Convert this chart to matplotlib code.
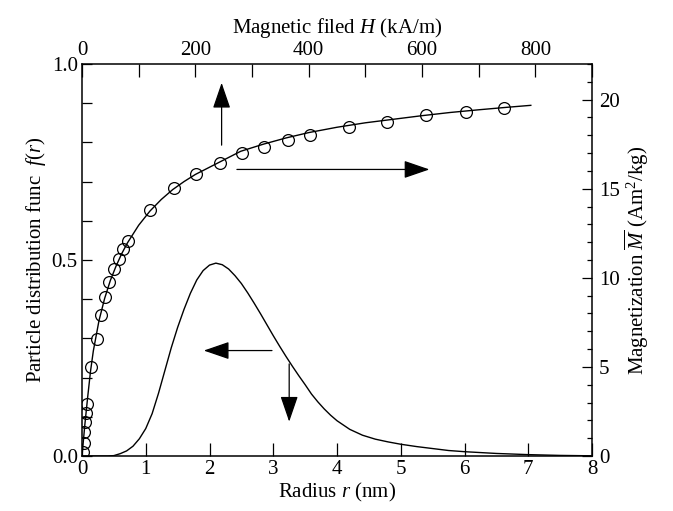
import matplotlib
matplotlib.use('Agg')
import matplotlib.pyplot as plt
from matplotlib.ticker import MultipleLocator, FixedLocator, FormatStrFormatter

plt.rcParams['font.family'] = ['Liberation Serif', 'DejaVu Serif']
plt.rcParams['mathtext.fontset'] = 'custom'
plt.rcParams['mathtext.rm'] = 'Liberation Serif'
plt.rcParams['mathtext.it'] = 'Liberation Serif:italic'

# size distribution f(r)
r_nm = [0, 0.4, 0.5, 0.6, 0.7, 0.8, 0.9, 1.0, 1.1, 1.2, 1.3, 1.4, 1.5, 1.6,
        1.7, 1.8, 1.9, 2.0, 2.1, 2.2, 2.3, 2.4, 2.5, 2.6, 2.7, 2.8, 2.9, 3.0,
        3.1, 3.2, 3.3, 3.4, 3.5, 3.6, 3.7, 3.8, 3.9, 4.0, 4.2, 4.4, 4.6, 4.8,
        5.0, 5.25, 5.5, 5.75, 6.0, 6.5, 7.0, 7.5, 8.0]
f_r = [0, 0.0, 0.001, 0.006, 0.013, 0.025, 0.044, 0.07, 0.108, 0.16,
       0.218, 0.276, 0.328, 0.374, 0.415, 0.449, 0.473, 0.487, 0.492, 0.488,
       0.477, 0.46, 0.44, 0.416, 0.39, 0.363, 0.335, 0.307, 0.28, 0.254,
       0.229, 0.205, 0.182, 0.158, 0.138, 0.12, 0.104, 0.09, 0.068, 0.053,
       0.043, 0.036, 0.03, 0.024, 0.019, 0.014, 0.011, 0.0065, 0.0035,
       0.0015, 0.0005]

# measured magnetization (circles)
H_meas = [2.3, 3.5, 4.4, 5.3, 7.1, 8.8, 15.4, 25.9, 33.0, 40.0, 47.6, 56.5,
          65.3, 71.8, 81.2, 120.0, 161.8, 200.6, 243.0, 281.8, 321.2, 363.0,
          401.5, 470.6, 538.8, 606.5, 677.1, 744.7]
M_meas = [0.24, 0.75, 1.36, 1.89, 2.40, 2.90, 5.01, 6.57, 7.91, 8.92, 9.76,
          10.49, 11.05, 11.62, 12.08, 13.82, 15.06, 15.82, 16.46, 17.03,
          17.36, 17.73, 18.04, 18.45, 18.76, 19.14, 19.32, 19.51]

# fitted magnetization curve
H_fit = [0, 5, 10, 15, 20, 30, 40, 50, 60, 70, 80, 100, 120, 140, 160, 180,
         200, 240, 280, 320, 360, 400, 450, 500, 550, 600, 650, 700, 750, 792]
M_fit = [0, 1.75, 3.3, 4.75, 5.9, 7.6, 8.85, 9.85, 10.65, 11.35, 11.95,
         12.95, 13.75, 14.4, 14.95, 15.4, 15.8, 16.45, 17.1, 17.5, 17.85,
         18.15, 18.45, 18.7, 18.9, 19.1, 19.28, 19.43, 19.57, 19.68]

FS = 15
fig = plt.figure(figsize=(6.73, 5.11), dpi=100)
rect = [82 / 673, 1 - 456 / 511, 510 / 673, 392 / 511]
ax = fig.add_axes(rect)
ax.plot(r_nm, f_r, color='black', lw=1.0)
ax.set_xlim(0, 8)
ax.set_ylim(0, 1.0)
ax.xaxis.set_major_locator(MultipleLocator(1))
ax.yaxis.set_major_locator(FixedLocator([0, 0.5, 1.0]))
ax.yaxis.set_minor_locator(MultipleLocator(0.1))
ax.yaxis.set_major_formatter(FormatStrFormatter('%.1f'))
ax.tick_params(axis='x', direction='in', length=9.5, width=0.9,
               labelsize=FS, pad=3, top=False)
ax.tick_params(axis='y', which='both', direction='in', length=7.2,
               width=0.9, labelsize=FS, pad=3, right=False)
for s in ax.spines.values():
    s.set_linewidth(1.1)
ax.set_xlabel('Radius $r$ (nm)', fontsize=FS, labelpad=1)
ax.set_ylabel('Particle distribution func  $f(r)$', fontsize=FS, labelpad=3)

ax2 = fig.add_axes(rect, frameon=False)
ax2.plot(H_fit, M_fit, color='black', lw=1.0)
ax2.plot(H_meas, M_meas, 'o', ms=8.5, mfc='none', mec='black', mew=0.9)
ax2.set_xlim(0, 900)
ax2.set_ylim(0, 22)
ax2.xaxis.tick_top()
ax2.xaxis.set_label_position('top')
ax2.yaxis.tick_right()
ax2.yaxis.set_label_position('right')
ax2.xaxis.set_major_locator(MultipleLocator(200))
ax2.xaxis.set_minor_locator(MultipleLocator(100))
ax2.yaxis.set_major_locator(MultipleLocator(5))
ax2.yaxis.set_minor_locator(MultipleLocator(1))
ax2.tick_params(axis='x', which='both', direction='in', length=9.5,
                width=0.9, labelsize=FS, pad=3)
ax2.tick_params(axis='y', which='major', direction='in', length=7.2,
                width=0.9, labelsize=FS, pad=5)
ax2.tick_params(axis='y', which='minor', direction='in', length=3.6,
                width=0.9)
ax2.set_xlabel('Magnetic filed $H$ (kA/m)', fontsize=FS, labelpad=6)
ax2.set_ylabel(r'Magnetization $\overline{M}$ (Am$^2$/kg)', fontsize=FS,
               labelpad=2)

arrow = dict(arrowstyle='-|>,head_length=1.6,head_width=0.55',
             color='black', lw=0.9, shrinkA=0, shrinkB=0, mutation_scale=10)
# arrows pointing to the axes of each curve
ax.annotate('', xy=(2.19, 0.952), xytext=(2.19, 0.793), arrowprops=arrow)
ax.annotate('', xy=(5.45, 0.731), xytext=(2.43, 0.731), arrowprops=arrow)
ax.annotate('', xy=(1.91, 0.269), xytext=(2.98, 0.269), arrowprops=arrow)
ax.annotate('', xy=(3.25, 0.0875), xytext=(3.25, 0.235), arrowprops=arrow)

fig.savefig('out.png', dpi=100)
